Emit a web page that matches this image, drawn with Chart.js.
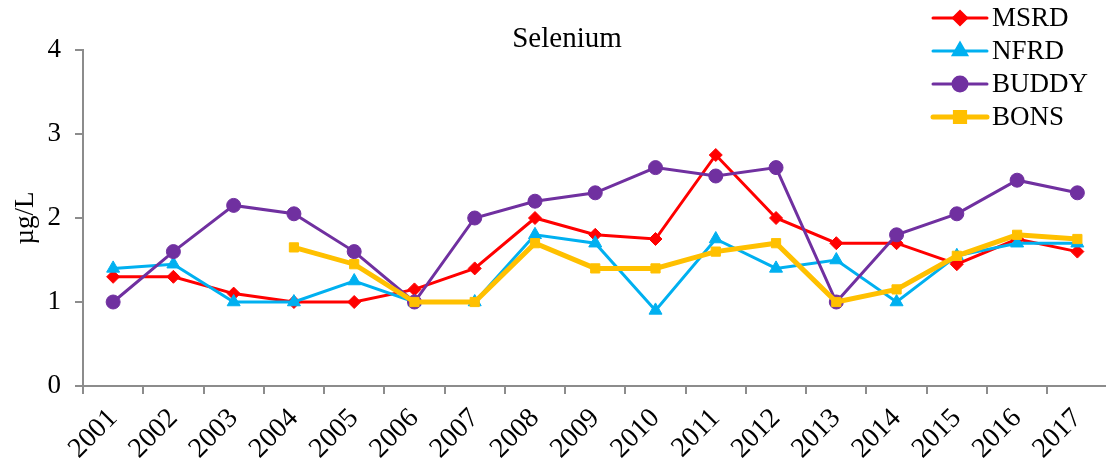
<!DOCTYPE html>
<html>
<head>
<meta charset="utf-8">
<script src="https://cdn.jsdelivr.net/npm/chart.js@4"></script>
<style>
  html, body { margin: 0; padding: 0; background: #fff; overflow: hidden; }
  #wrap { width: 1116px; height: 466px; }
</style>
</head>
<body>
<div id="wrap"><canvas id="seleniumChart"></canvas></div>
<script>
// data
const years = ['2001', '2002', '2003', '2004', '2005', '2006', '2007', '2008', '2009',
    '2010', '2011', '2012', '2013', '2014', '2015', '2016', '2017'];
const msrd  = [1.3, 1.3, 1.1, 1.0, 1.0, 1.15, 1.4, 2.0, 1.8, 1.75, 2.75, 2.0, 1.7, 1.7, 1.45, 1.75, 1.6];
const nfrd  = [1.4, 1.45, 1.0, 1.0, 1.25, 1.0, 1.0, 1.8, 1.7, 0.9, 1.75, 1.4, 1.5, 1.0, 1.55, 1.7, 1.7];
const buddy = [1.0, 1.6, 2.15, 2.05, 1.6, 1.0, 2.0, 2.2, 2.3, 2.6, 2.5, 2.6, 1.0, 1.8, 2.05, 2.45, 2.3];
const bons  = [null, null, null, 1.65, 1.45, 1.0, 1.0, 1.7, 1.4, 1.4, 1.6, 1.7, 1.0, 1.15, 1.55, 1.8, 1.75];
const seriesNames = ['MSRD', 'NFRD', 'BUDDY', 'BONS'];
const yTicks = [0, 1, 2, 3, 4];
const chartTitle = 'Selenium';

const serif = "'Liberation Serif', 'Times New Roman', serif";
const axisGray = '#8c8c8c';

function series(label, data, color, style, radius, width, order) {
    return {
        label: label,
        data: data,
        borderColor: color,
        backgroundColor: color,
        pointBackgroundColor: color,
        pointBorderColor: color,
        pointStyle: style,
        pointRadius: radius,
        pointBorderWidth: 1,
        borderWidth: width,
        tension: 0,
        spanGaps: false,
        order: order
    };
}

// title sits inside the plot, a bit right of the page centre, so draw it here
const plotTitle = {
    id: 'plotTitle',
    afterDraw(chart) {
        const ctx = chart.ctx;
        ctx.save();
        ctx.fillStyle = '#000';
        ctx.font = '29px ' + serif;
        ctx.textAlign = 'center';
        ctx.textBaseline = 'alphabetic';
        ctx.fillText(chartTitle, 567, 47);
        ctx.restore();
    }
};

// legend drawn as Excel does: short line with the marker in the middle
const lineLegend = {
    id: 'lineLegend',
    afterDraw(chart) {
        const ctx = chart.ctx;
        const x0 = 933, x1 = 987, textX = 992, y0 = 18, step = 33;
        ctx.save();
        seriesNames.forEach((name, i) => {
            const ds = chart.data.datasets.find(d => d.label === name);
            const y = y0 + i * step;
            ctx.strokeStyle = ds.borderColor;
            ctx.lineWidth = ds.borderWidth;
            ctx.lineCap = 'round';
            ctx.beginPath();
            ctx.moveTo(x0, y);
            ctx.lineTo(x1, y);
            ctx.stroke();
            ctx.fillStyle = ds.backgroundColor;
            Chart.helpers.drawPoint(ctx, {
                pointStyle: ds.pointStyle,
                radius: ds.pointRadius,
                borderWidth: 1,
                rotation: 0
            }, (x0 + x1) / 2, y);
            ctx.fillStyle = '#000';
            ctx.font = '27px ' + serif;
            ctx.textBaseline = 'middle';
            ctx.textAlign = 'left';
            ctx.fillText(name, textX, y + 1);
        });
        ctx.restore();
    }
};

const ctx = document.getElementById('seleniumChart').getContext('2d');
new Chart(ctx, {
    type: 'line',
    data: {
        labels: years,
        datasets: [
            series('MSRD', msrd, '#FF0000', 'rectRot', 6.5, 3, 4),
            series('NFRD', nfrd, '#00B0F0', 'triangle', 7.5, 3, 3),
            series('BUDDY', buddy, '#7030A0', 'circle', 7, 3, 2),
            series('BONS', bons, '#FFC000', 'rect', 6.5, 5, 1)
        ]
    },
    options: {
        responsive: true,
        maintainAspectRatio: false,
        animation: false,
        layout: { padding: { top: 50, right: 0, bottom: 0, left: 0 } },
        plugins: {
            legend: { display: false },
            tooltip: { enabled: false },
            title: { display: false }
        },
        scales: {
            x: {
                type: 'category',
                offset: true,
                grid: {
                    offset: true,
                    drawOnChartArea: false,
                    tickLength: 8,
                    color: axisGray,
                    lineWidth: 2
                },
                border: { color: axisGray, width: 2 },
                ticks: {
                    color: '#000',
                    font: { family: serif, size: 28 },
                    maxRotation: 45,
                    minRotation: 45,
                    padding: 8,
                    autoSkip: false
                },
                afterFit(scale) {
                    scale.height = 80;
                    scale.paddingRight = 0;
                    scale.paddingLeft = 0;
                }
            },
            y: {
                min: 0,
                max: 4,
                afterBuildTicks(scale) { scale.ticks = yTicks.map(v => ({ value: v })); },
                grid: {
                    drawOnChartArea: false,
                    tickLength: 8,
                    color: axisGray,
                    lineWidth: 2
                },
                border: { color: axisGray, width: 2 },
                ticks: {
                    color: '#000',
                    font: { family: serif, size: 27 },
                    padding: 14
                },
                title: {
                    display: true,
                    text: 'µg/L',
                    color: '#000',
                    font: { family: serif, size: 27 },
                    padding: { top: 10, bottom: 0 }
                },
                afterFit(scale) { scale.width = 83; }
            }
        }
    },
    plugins: [plotTitle, lineLegend]
});
</script>
</body>
</html>
